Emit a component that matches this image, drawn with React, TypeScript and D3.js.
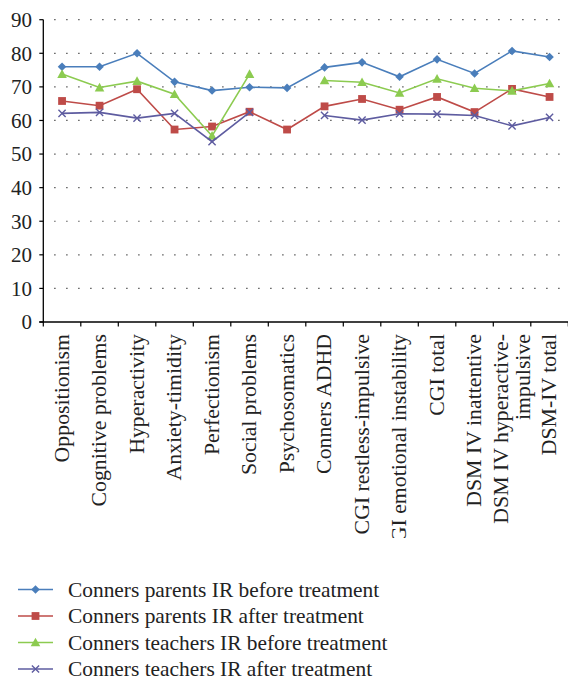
import React from "react";
import * as d3 from "d3";

const categories: string[][] = [
  ["Oppositionism"],
  ["Cognitive problems"],
  ["Hyperactivity"],
  ["Anxiety-timidity"],
  ["Perfectionism"],
  ["Social problems"],
  ["Psychosomatics"],
  ["Conners ADHD"],
  ["CGI restless-impulsive"],
  ["CGI emotional instability"],
  ["CGI total"],
  ["DSM IV inattentive"],
  ["DSM IV hyperactive-", "impulsive"],
  ["DSM-IV total"],
];

const parentsBefore: (number | null)[] = [76.0, 76.0, 80.0, 71.5, 68.9, 69.9, 69.7, 75.8, 77.3, 73.0, 78.2, 74.0, 80.7, 78.9];
const parentsAfter: (number | null)[] = [65.8, 64.4, 69.3, 57.3, 58.2, 62.6, 57.3, 64.2, 66.4, 63.2, 67.0, 62.5, 69.4, 67.0];
const teachersBefore: (number | null)[] = [73.8, 69.8, 71.7, 67.8, 55.4, 73.8, null, 71.9, 71.4, 68.2, 72.4, 69.6, 68.8, 71.0];
const teachersAfter: (number | null)[] = [62.1, 62.4, 60.7, 62.1, 53.7, 62.4, null, 61.5, 60.1, 62.0, 61.9, 61.5, 58.4, 60.9];

const yTicks: number[] = [0, 10, 20, 30, 40, 50, 60, 70, 80, 90];

const seriesNames: string[] = [
  "Conners parents IR before treatment",
  "Conners parents IR after treatment",
  "Conners teachers IR before treatment",
  "Conners teachers IR after treatment",
];

const FONT = "'Liberation Serif', 'Times New Roman', serif";

type Marker = "diamond" | "square" | "triangle" | "x";
const series = [
  { name: seriesNames[0], values: parentsBefore, color: "#4A7EBB", marker: "diamond" as Marker },
  { name: seriesNames[1], values: parentsAfter, color: "#BE4B48", marker: "square" as Marker },
  { name: seriesNames[2], values: teachersBefore, color: "#8CCB50", marker: "triangle" as Marker },
  { name: seriesNames[3], values: teachersAfter, color: "#5E5CA0", marker: "x" as Marker },
];

function MarkerShape({ type, x, y, color }: { type: Marker; x: number; y: number; color: string }) {
  if (type === "diamond") {
    const s = 4.3;
    return <path d={`M${x},${y - s}L${x + s},${y}L${x},${y + s}L${x - s},${y}Z`} fill={color} />;
  }
  if (type === "square") {
    const s = 3.9;
    return <rect x={x - s} y={y - s} width={2 * s} height={2 * s} fill={color} />;
  }
  if (type === "triangle") {
    const s = 4.8;
    return <path d={`M${x},${y - s}L${x + s},${y + s * 0.8}L${x - s},${y + s * 0.8}Z`} fill={color} />;
  }
  const s = 3.6;
  return (
    <path d={`M${x - s},${y - s}L${x + s},${y + s}M${x - s},${y + s}L${x + s},${y - s}`} stroke={color} strokeWidth={1.4} fill="none" />
  );
}

export default function App() {
  const W = 568;
  const H = 681;
  const x0 = 43.3;
  const step = 37.5;
  const x = d3
    .scaleBand<number>()
    .domain(d3.range(categories.length))
    .range([x0, x0 + step * categories.length])
    .padding(0);
  const y = d3.scaleLinear().domain([0, 90]).range([322, 19.7]);
  const cx = (i: number) => (x(i) as number) + x.bandwidth() / 2;

  const line = d3
    .line<number | null>()
    .defined((d) => d !== null)
    .x((_, i) => cx(i))
    .y((d) => y(d as number));

  const gridEnd = x0 + step * categories.length;

  return (
    <svg
      width={W}
      height={H}
      viewBox={`0 0 ${W} ${H}`}
      style={{ position: "absolute", left: 0, top: 0, background: "#fff" }}
      fontFamily={FONT}
    >
      <defs>
        <clipPath id="labclip">
          <rect x={0} y={322} width={W} height={216} />
        </clipPath>
      </defs>
      <rect width={W} height={H} fill="#fff" />
      {/* gridlines */}
      {yTicks
        .filter((t) => t > 0)
        .map((t) => (
          <line
            key={t}
            x1={x0}
            x2={gridEnd}
            y1={y(t)}
            y2={y(t)}
            stroke="#333"
            strokeWidth={1.2}
            strokeDasharray="1.2 10.8"
            strokeDashoffset={-11}
          />
        ))}
      {/* y axis */}
      <line x1={x0} x2={x0} y1={y(90)} y2={y(0)} stroke="#000" strokeWidth={1.3} />
      {yTicks.map((t) => (
        <g key={t}>
          <line x1={x0 - 4} x2={x0} y1={y(t)} y2={y(t)} stroke="#000" strokeWidth={1.2} />
          <text x={32} y={y(t)} dy="0.35em" textAnchor="end" fontSize={21} fill="#222">
            {t}
          </text>
        </g>
      ))}
      {/* x axis */}
      <line x1={x0 - 4} x2={gridEnd} y1={y(0)} y2={y(0)} stroke="#000" strokeWidth={1.3} />
      {d3.range(categories.length + 1).map((i) => (
        <line key={i} x1={x0 + i * step} x2={x0 + i * step} y1={y(0)} y2={y(0) + 4.5} stroke="#000" strokeWidth={1.2} />
      ))}
      <g clipPath="url(#labclip)">
        {categories.map((lines, i) => (
          <g key={i} transform={`translate(${cx(i)},334) rotate(-90)`}>
            {lines.map((l, j) => (
              <text
                key={j}
                x={0}
                y={0}
                dy={`${0.3 + (j - (lines.length - 1) / 2) * 1.0}em`}
                textAnchor="end"
                fontSize={21.8}
                fill="#222"
              >
                {l}
              </text>
            ))}
          </g>
        ))}
      </g>
      {/* series */}
      {series.map((s) => (
        <g key={s.name}>
          <path d={line(s.values) || ""} fill="none" stroke={s.color} strokeWidth={1.6} />
          {s.values.map((v, i) =>
            v === null ? null : <MarkerShape key={i} type={s.marker} x={cx(i)} y={y(v)} color={s.color} />
          )}
        </g>
      ))}
      {/* legend */}
      {series.map((s, i) => {
        const ly = 589.5 + i * 26.5;
        return (
          <g key={s.name}>
            <line x1={18} x2={53} y1={ly} y2={ly} stroke={s.color} strokeWidth={1.6} />
            <MarkerShape type={s.marker} x={35.5} y={ly} color={s.color} />
            <text x={68} y={ly} dy="0.33em" fontSize={21.4} fill="#222">
              {s.name}
            </text>
          </g>
        );
      })}
    </svg>
  );
}
